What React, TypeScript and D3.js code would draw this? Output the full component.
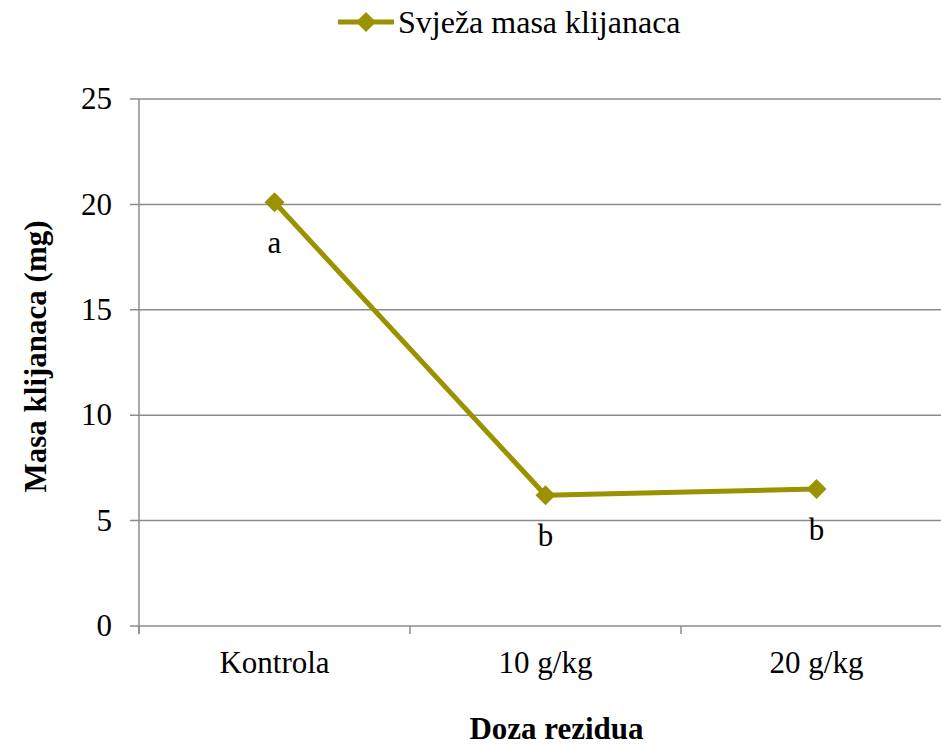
import { useEffect, useRef } from "react";
import * as d3 from "d3";

const categories = ["Kontrola", "10 g/kg", "20 g/kg"];
const values = [20.1, 6.2, 6.5];
const letters = ["a", "b", "b"];
const yTicks = [0, 5, 10, 15, 20, 25];
const seriesName = "Svježa masa klijanaca";

const COLOR = "#9A9200";
const FONT = '"Liberation Serif", "DejaVu Serif", serif';
const FS = 31;

export default function App() {
  const svgRef = useRef<SVGSVGElement>(null);

  useEffect(() => {
    if (!svgRef.current) return;
    const svg = d3.select(svgRef.current);
    svg.selectAll("*").remove();

    const width = 941;
    const height = 746;
    const left = 139;
    const right = 952;
    const top = 99;
    const bottom = 626;

    const x = d3.scaleBand<string>().domain(categories).range([left, right]);
    const y = d3.scaleLinear().domain([0, 25]).range([bottom, top]);

    svg
      .attr("width", width)
      .attr("height", height)
      .style("font-family", FONT);

    // Gridlines + y ticks
    svg
      .append("g")
      .selectAll("line")
      .data(yTicks)
      .join("line")
      .attr("x1", left - 9)
      .attr("x2", right)
      .attr("y1", (d) => y(d))
      .attr("y2", (d) => y(d))
      .attr("stroke", "#8c8c8c")
      .attr("stroke-width", 1.5);

    // Y axis line
    svg
      .append("line")
      .attr("x1", left)
      .attr("x2", left)
      .attr("y1", top)
      .attr("y2", bottom + 8)
      .attr("stroke", "#8c8c8c")
      .attr("stroke-width", 1.5);

    // X category ticks
    const boundaries = categories.map((c) => x(c)!).concat([right]);
    svg
      .append("g")
      .selectAll("line")
      .data(boundaries)
      .join("line")
      .attr("x1", (d) => d)
      .attr("x2", (d) => d)
      .attr("y1", bottom)
      .attr("y2", bottom + 8)
      .attr("stroke", "#8c8c8c")
      .attr("stroke-width", 1.5);

    // Y tick labels
    svg
      .append("g")
      .selectAll("text")
      .data(yTicks)
      .join("text")
      .attr("x", 112)
      .attr("y", (d) => y(d))
      .attr("dy", "0.33em")
      .attr("text-anchor", "end")
      .style("font-size", `${FS}px`)
      .text((d) => d);

    // X tick labels
    svg
      .append("g")
      .selectAll("text")
      .data(categories)
      .join("text")
      .attr("x", (d) => x(d)! + x.bandwidth() / 2)
      .attr("y", 673)
      .attr("text-anchor", "middle")
      .style("font-size", `${FS}px`)
      .text((d) => d);

    const pts = categories.map((c, i) => ({
      cx: x(c)! + x.bandwidth() / 2,
      cy: y(values[i]),
      letter: letters[i],
    }));

    // Series line
    const line = d3
      .line<{ cx: number; cy: number }>()
      .x((d) => d.cx)
      .y((d) => d.cy);

    svg
      .append("path")
      .attr("d", line(pts) as string)
      .attr("fill", "none")
      .attr("stroke", COLOR)
      .attr("stroke-width", 5)
      .attr("stroke-linejoin", "round");

    const diamond = d3.symbol().type(d3.symbolSquare).size(200);
    svg
      .append("g")
      .selectAll("path")
      .data(pts)
      .join("path")
      .attr("d", diamond() as string)
      .attr("transform", (d) => `translate(${d.cx},${d.cy}) rotate(45)`)
      .attr("fill", COLOR);

    // Significance letters
    svg
      .append("g")
      .selectAll("text")
      .data(pts)
      .join("text")
      .attr("x", (d) => d.cx)
      .attr("y", (d) => d.cy + 51)
      .attr("text-anchor", "middle")
      .style("font-size", `${FS}px`)
      .text((d) => d.letter);

    // Axis titles
    svg
      .append("text")
      .attr("x", (left + right) / 2 + 11)
      .attr("y", 739)
      .attr("text-anchor", "middle")
      .style("font-size", `${FS}px`)
      .style("font-weight", "bold")
      .text("Doza rezidua");

    svg
      .append("text")
      .attr("transform", `translate(35,${(top + bottom) / 2 - 6}) rotate(-90)`)
      .attr("text-anchor", "middle")
      .attr("dy", "0.35em")
      .style("font-size", `${FS}px`)
      .style("font-weight", "bold")
      .text("Masa klijanaca (mg)");

    // Legend
    const lg = svg.append("g").attr("transform", "translate(338,22)");
    lg.append("line")
      .attr("x1", 0)
      .attr("x2", 56)
      .attr("y1", 0)
      .attr("y2", 0)
      .attr("stroke", COLOR)
      .attr("stroke-width", 5);
    lg.append("path")
      .attr("d", diamond() as string)
      .attr("transform", "translate(28,0) rotate(45)")
      .attr("fill", COLOR);
    lg.append("text")
      .attr("x", 60)
      .attr("y", 0)
      .attr("dy", "0.33em")
      .style("font-size", "32px")
      .text(seriesName);
  }, []);

  return (
    <div style={{ position: "absolute", top: 0, left: 0, background: "#fff" }}>
      <svg ref={svgRef} style={{ display: "block" }} />
    </div>
  );
}
